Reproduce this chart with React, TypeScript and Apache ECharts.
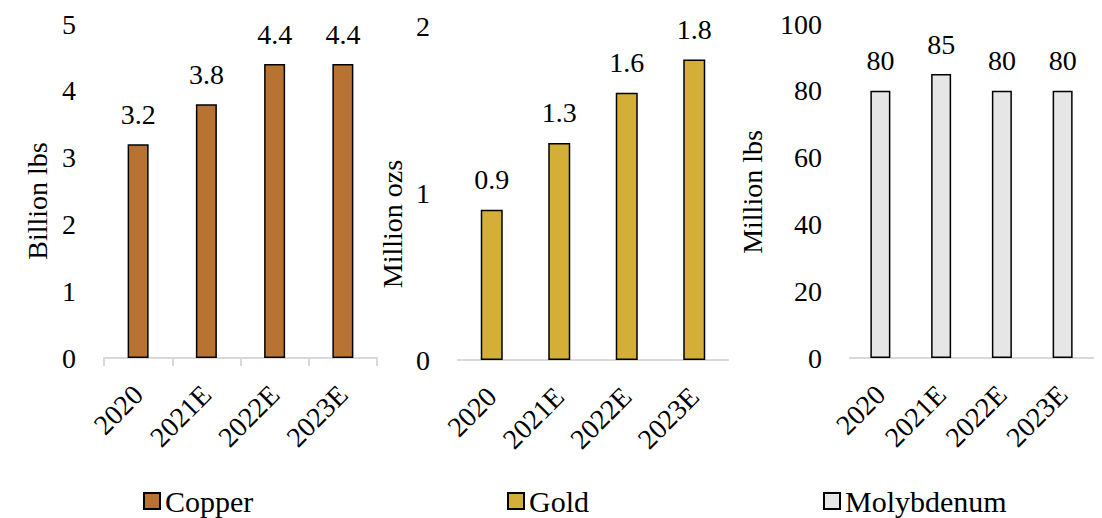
import React, { useEffect, useRef } from "react";
import * as echarts from "echarts";

// Production outlook by metal
const years = ["2020", "2021E", "2022E", "2023E"];
const copperBlbs = [3.2, 3.8, 4.4, 4.4];
const goldMozs = [0.9, 1.3, 1.6, 1.8];
const molyMlbs = [80, 85, 80, 80];

const FONT = "Liberation Serif";
const TEXT = "#000000";
const AXIS_GREY = "#d9d9d9";

const panels = [
  { name: "Copper", unit: "Billion lbs", data: copperBlbs, color: "#b87333", max: 5, step: 1,
    grid: { left: 104, top: 24, width: 273, height: 334 }, barWidth: 21, ticks: true,
    unitPos: [37, 201], legendLeft: 143 },
  { name: "Gold", unit: "Million ozs", data: goldMozs, color: "#d4af37", max: 2, step: 1,
    grid: { left: 458, top: 26, width: 270, height: 334 }, barWidth: 22, ticks: false,
    unitPos: [392, 224], legendLeft: 507 },
  { name: "Molybdenum", unit: "Million lbs", data: molyMlbs, color: "#e6e6e6", max: 100, step: 20,
    grid: { left: 850, top: 24, width: 243, height: 334 }, barWidth: 20, ticks: false,
    unitPos: [752, 192], legendLeft: 823 },
];

export default function App() {
  const ref = useRef<HTMLDivElement>(null);

  useEffect(() => {
    if (!ref.current) return;
    const chart = echarts.init(ref.current, undefined, { renderer: "svg" });

    const option: echarts.EChartsOption = {
      animation: false,
      backgroundColor: "#ffffff",
      textStyle: { fontFamily: FONT, color: TEXT },
      grid: panels.map((p) => ({ ...p.grid, containLabel: false })),
      xAxis: panels.map((p, i) => ({
        type: "category",
        gridIndex: i,
        data: years,
        axisLine: { show: true, lineStyle: { color: AXIS_GREY, width: 2 } },
        axisTick: { show: p.ticks, length: 8, lineStyle: { color: AXIS_GREY, width: 2 } },
        axisLabel: {
          interval: 0,
          rotate: 45,
          margin: 32,
          fontFamily: FONT,
          fontSize: 28,
          color: TEXT,
        },
      })),
      yAxis: panels.map((p, i) => ({
        type: "value",
        gridIndex: i,
        min: 0,
        max: p.max,
        interval: p.step,
        axisLine: { show: false },
        axisTick: { show: false },
        splitLine: { show: false },
        axisLabel: { margin: 28, fontFamily: FONT, fontSize: 28, color: TEXT },
      })),
      legend: panels.map((p) => ({
        data: [p.name],
        left: p.legendLeft,
        top: 486,
        padding: 0,
        icon: "rect",
        itemWidth: 16,
        itemHeight: 16,
        textStyle: { fontFamily: FONT, fontSize: 30, color: TEXT },
      })),
      series: panels.map((p, i) => ({
        type: "bar",
        name: p.name,
        xAxisIndex: i,
        yAxisIndex: i,
        data: p.data,
        barWidth: p.barWidth,
        itemStyle: { color: p.color, borderColor: "#000000", borderWidth: 1.5 },
        label: {
          show: true,
          position: "top",
          distance: 16,
          fontFamily: FONT,
          fontSize: 28,
          color: TEXT,
        },
      })),
      graphic: panels.map((p) => ({
        type: "text",
        x: p.unitPos[0],
        y: p.unitPos[1],
        rotation: Math.PI / 2,
        style: {
          text: p.unit,
          fontFamily: FONT,
          fontSize: 28,
          fill: TEXT,
          align: "center",
          verticalAlign: "middle",
        },
      })),
    };

    chart.setOption(option);
    return () => chart.dispose();
  }, []);

  return (
    <div
      ref={ref}
      style={{ position: "absolute", left: 0, top: 0, width: 1102, height: 518 }}
    />
  );
}
